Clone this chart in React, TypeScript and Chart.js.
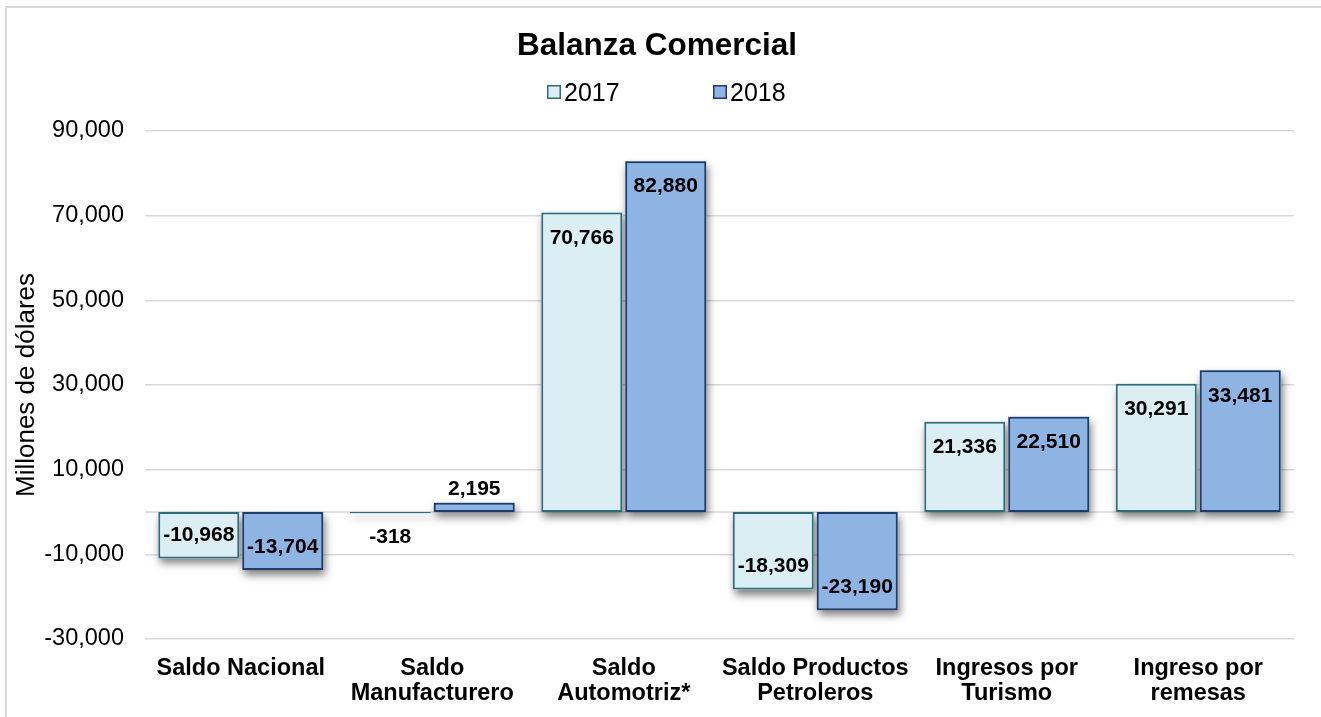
import React, { useEffect, useRef } from 'react';
import { Chart, registerables } from 'chart.js';

Chart.register(...registerables);

// ---------- data ----------
const categories: string[][] = [
  ['Saldo Nacional'],
  ['Saldo', 'Manufacturero'],
  ['Saldo', 'Automotriz*'],
  ['Saldo Productos', 'Petroleros'],
  ['Ingresos por', 'Turismo'],
  ['Ingreso por', 'remesas'],
];
const seriesNames = ['2017', '2018'];
const values2017 = [-10968, -318, 70766, -18309, 21336, 30291];
const values2018 = [-13704, 2195, 82880, -23190, 22510, 33481];
const yMin = -30000;
const yMax = 90000;
const yStep = 20000;
const chartTitle = 'Balanza Comercial';
const yAxisTitle = 'Millones de dólares';

// ---------- styles ----------
const FONT = "'Liberation Sans', Arial, Helvetica, sans-serif";
const fills = ['#DAEEF3', '#8EB4E3'];
const borders = ['#2E6B7B', '#1F3B66'];
const GRID = '#d9d9d9';
const OX = 2; // offset of drawing inside the canvas (frame line width)
const W = 1316;
const H = 711;
const fmt = (v: number) => v.toLocaleString('en-US');

const decorPlugin = {
  id: 'decor',
  beforeDraw(chart: any) {
    const { ctx } = chart;
    ctx.save();
    ctx.fillStyle = '#fff';
    ctx.fillRect(0, 0, W, H);
    ctx.fillStyle = GRID;
    ctx.fillRect(0, 0, 2, H);
    ctx.fillRect(0, 0, W, 2);
    ctx.restore();
  },
  beforeDatasetsDraw(chart: any) {
    const { ctx, chartArea, scales } = chart;
    const y0 = scales.y.getPixelForValue(0);
    ctx.save();
    ctx.strokeStyle = GRID;
    ctx.lineWidth = 1.5;
    ctx.beginPath();
    ctx.moveTo(chartArea.left, y0);
    ctx.lineTo(chartArea.right, y0);
    ctx.stroke();
    chart.data.datasets.forEach((ds: any, i: number) => {
      const meta = chart.getDatasetMeta(i);
      meta.data.forEach((bar: any) => {
        const { x, y, base, width } = bar.getProps(['x', 'y', 'base', 'width'], true);
        const top = Math.min(y, base);
        const h = Math.abs(base - y);
        ctx.save();
        ctx.shadowColor = 'rgba(0,0,0,0.5)';
        ctx.shadowBlur = 8;
        ctx.shadowOffsetX = 2;
        ctx.shadowOffsetY = 5;
        ctx.fillStyle = ds.backgroundColor;
        ctx.fillRect(x - width / 2, top, width, Math.max(h, 1));
        ctx.restore();
      });
    });
    ctx.restore();
  },
  afterDatasetsDraw(chart: any) {
    const { ctx } = chart;
    ctx.save();
    ctx.font = `bold 21px ${FONT}`;
    ctx.fillStyle = '#000';
    ctx.textAlign = 'center';
    ctx.textBaseline = 'middle';
    chart.data.datasets.forEach((ds: any, i: number) => {
      const meta = chart.getDatasetMeta(i);
      meta.data.forEach((bar: any, j: number) => {
        const v = ds.data[j];
        const { x, y, base } = bar.getProps(['x', 'y', 'base'], true);
        const h = Math.abs(base - y);
        let ty: number;
        if (v >= 0) {
          ty = h > 35 ? y + 25.5 : y - 13.5;
        } else {
          ty = h > 35 ? y - 23 : y + 23.5;
        }
        ctx.fillText(fmt(v), x, ty);
      });
    });
    ctx.restore();
  },
  afterDraw(chart: any) {
    const { ctx, chartArea } = chart;
    ctx.save();
    ctx.fillStyle = '#000';
    ctx.font = `bold 31.5px ${FONT}`;
    ctx.textAlign = 'center';
    ctx.textBaseline = 'alphabetic';
    ctx.fillText(chartTitle, 650 + OX, 46.5 + OX);
    const boxes = [540 + OX, 706 + OX];
    ctx.font = `25px ${FONT}`;
    ctx.textAlign = 'left';
    seriesNames.forEach((name, i) => {
      const bx = boxes[i];
      ctx.fillStyle = fills[i];
      ctx.fillRect(bx, 77 + OX, 14, 14);
      ctx.strokeStyle = borders[i];
      ctx.lineWidth = 1.5;
      ctx.strokeRect(bx + 0.75, 77.75 + OX, 12.5, 12.5);
      ctx.fillStyle = '#000';
      ctx.fillText(name, bx + 17, 93 + OX);
    });
    ctx.translate(26.5 + OX, (chartArea.top + chartArea.bottom) / 2);
    ctx.rotate(-Math.PI / 2);
    ctx.font = `26px ${FONT}`;
    ctx.textAlign = 'center';
    ctx.textBaseline = 'alphabetic';
    ctx.fillText(yAxisTitle, 0, 0);
    ctx.restore();
  },
};

export default function App() {
  const ref = useRef<HTMLCanvasElement | null>(null);

  useEffect(() => {
    if (!ref.current) return;
    const chart = new Chart(ref.current, {
      type: 'bar',
      data: {
        labels: categories,
        datasets: [
          {
            label: seriesNames[0],
            data: values2017,
            backgroundColor: fills[0],
            borderColor: borders[0],
            borderWidth: 2,
            borderSkipped: false,
            categoryPercentage: 0.877,
            barPercentage: 0.964,
          },
          {
            label: seriesNames[1],
            data: values2018,
            backgroundColor: fills[1],
            borderColor: borders[1],
            borderWidth: 2,
            borderSkipped: false,
            categoryPercentage: 0.877,
            barPercentage: 0.964,
          },
        ],
      },
      options: {
        animation: false,
        responsive: false,
        maintainAspectRatio: false,
        layout: { padding: { left: 0, right: W - 1287 - OX, top: 123 + OX, bottom: 0 } },
        plugins: {
          legend: { display: false },
          title: { display: false },
          tooltip: { enabled: false },
        },
        scales: {
          x: {
            grid: { display: false, drawTicks: false },
            border: { display: false },
            ticks: {
              color: '#000',
              font: { family: FONT, size: 23.5, weight: 'bold', lineHeight: 1.064 },
              padding: 17,
              maxRotation: 0,
              autoSkip: false,
            },
            afterFit: (s: any) => {
              s.height = H - 631 - OX;
            },
          },
          y: {
            min: yMin,
            max: yMax,
            grid: { color: GRID, lineWidth: 1.5, drawTicks: false },
            border: { display: false },
            ticks: {
              stepSize: yStep,
              color: '#000',
              font: { family: FONT, size: 23.5 },
              padding: 21,
              callback: (v: any) => fmt(Number(v)),
            },
            afterFit: (s: any) => {
              s.width = 138 + OX;
            },
          },
        },
      },
      plugins: [decorPlugin],
    } as any);
    return () => chart.destroy();
  }, []);

  return (
    <div style={{ position: 'fixed', left: 0, top: 0, width: 1321, height: 717, overflow: 'hidden', background: '#fff' }}>
      <canvas
        ref={ref}
        width={W}
        height={H}
        style={{ position: 'absolute', left: 5, top: 6, display: 'block', width: W, height: H }}
      />
    </div>
  );
}
